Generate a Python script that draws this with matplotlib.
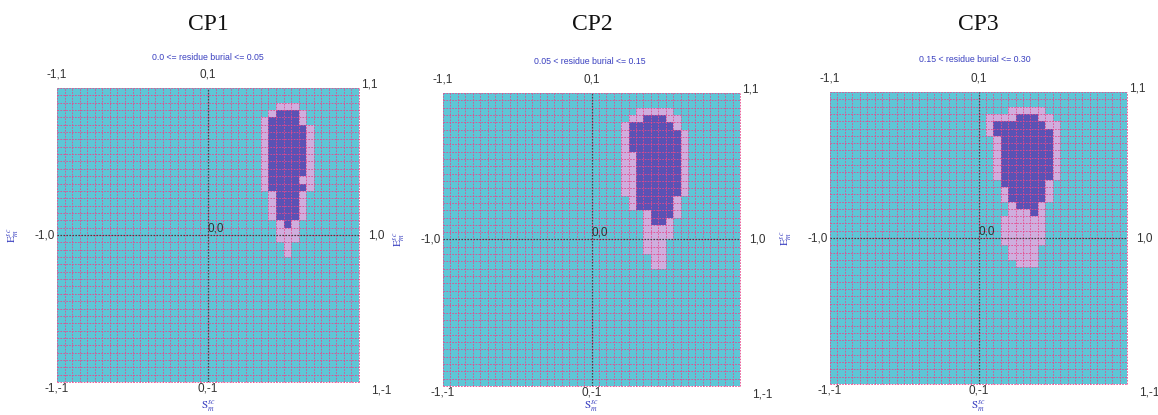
import numpy as np
import matplotlib
matplotlib.use("Agg")
import matplotlib.pyplot as plt
from matplotlib.colors import ListedColormap

plt.rcParams["mathtext.fontset"] = "stix"

# Mapas 40x40: filas contadas desde arriba, (col_ini, col_fin) inclusive
n = 40
titulos = ["CP1", "CP2", "CP3"]
subtitulos = ["0.0 <= residue burial <= 0.05",
              "0.05 < residue burial <= 0.15",
              "0.15 < residue burial <= 0.30"]

oscuro1 = {3: (29, 31), 4: (28, 31), 5: (28, 32), 6: (28, 32), 7: (28, 32), 8: (28, 32),
           9: (28, 32), 10: (28, 32), 11: (28, 32), 12: (28, 31), 13: (28, 32),
           14: (29, 31), 15: (29, 31), 16: (29, 31), 17: (29, 31), 18: (30, 30)}
halo1 = {2: (29, 31), 3: (28, 32), 4: (27, 32), 5: (27, 33), 6: (27, 33), 7: (27, 33),
         8: (27, 33), 9: (27, 33), 10: (27, 33), 11: (27, 33), 12: (27, 33), 13: (27, 33),
         14: (28, 32), 15: (28, 32), 16: (28, 32), 17: (28, 32), 18: (29, 31),
         19: (29, 31), 20: (29, 31), 21: (30, 30), 22: (30, 30)}

oscuro2 = {3: (27, 29), 4: (25, 30), 5: (25, 31), 6: (25, 31), 7: (25, 31), 8: (26, 31),
           9: (26, 31), 10: (26, 31), 11: (26, 31), 12: (26, 31), 13: (26, 31),
           14: (26, 30), 15: (26, 30), 16: (28, 30), 17: (28, 29)}
halo2 = {2: (26, 30), 3: (25, 31), 4: (24, 31), 5: (24, 32), 6: (24, 32), 7: (24, 32),
         8: (24, 32), 9: (24, 32), 10: (24, 32), 11: (24, 32), 12: (24, 32), 13: (24, 32),
         14: (25, 31), 15: (25, 31), 16: (27, 31), 17: (27, 30), 18: (27, 30),
         19: (27, 30), 20: (27, 29), 21: (27, 29), 22: (28, 29), 23: (28, 29)}

oscuro3 = {3: (25, 27), 4: (22, 28), 5: (22, 29), 6: (23, 29), 7: (23, 29), 8: (23, 29),
           9: (23, 29), 10: (23, 29), 11: (23, 29), 12: (23, 28), 13: (24, 28),
           14: (24, 28), 15: (25, 27), 16: (27, 27)}
halo3 = {2: (24, 28), 3: (21, 29), 4: (21, 30), 5: (21, 30), 6: (22, 30), 7: (22, 30),
         8: (22, 30), 9: (22, 30), 10: (22, 30), 11: (22, 30), 12: (23, 29), 13: (23, 29),
         14: (23, 29), 15: (24, 28), 16: (24, 28), 17: (23, 28), 18: (23, 28),
         19: (23, 28), 20: (23, 28), 21: (24, 27), 22: (24, 27), 23: (25, 27)}

mapas = [(oscuro1, halo1), (oscuro2, halo2), (oscuro3, halo3)]

# posiciones de los paneles en pixeles (izq, der, arriba, abajo)
W, H = 1158, 415
paneles = [(57, 359, 88, 382), (443, 740, 93, 386), (830, 1127, 92, 384)]
pos_titulo = [(208, 25), (592, 25), (978, 25)]
pos_sub = [(208, 57), (590, 62), (975, 60)]

cmap = ListedColormap(["#5ec6d6", "#cfaede", "#5a52b4"])
rosa = "#e8488c"
gris = "#333333"
azul = "#3a40c0"

def construir(oscuro, halo):
    m = np.zeros((n, n))
    for r, (a, b) in halo.items():
        m[r, a:b + 1] = 1
    for r, (a, b) in oscuro.items():
        m[r, a:b + 1] = 2
    return m[::-1]  # fila 0 abajo

fig = plt.figure(figsize=(W / 100, H / 100), dpi=100)
fig.patch.set_facecolor("white")

for i, (izq, der, arr, aba) in enumerate(paneles):
    ax = fig.add_axes([izq / W, 1 - aba / H, (der - izq) / W, (aba - arr) / H])
    m = construir(*mapas[i])
    bordes = np.linspace(-1, 1, n + 1)
    ax.pcolormesh(bordes, bordes, m, cmap=cmap, vmin=0, vmax=2)
    ax.vlines(bordes, -1, 1, colors=rosa, linestyles=(0, (2, 1.5)), linewidth=0.6, clip_on=False)
    ax.hlines(bordes, -1, 1, colors=rosa, linestyles=(0, (2, 1.5)), linewidth=0.6, clip_on=False)
    ax.axhline(0, color="#444444", ls=(0, (1.2, 1.2)), lw=0.9)
    ax.axvline(0, color="#444444", ls=(0, (1.2, 1.2)), lw=0.9)
    ax.set_xlim(-1, 1)
    ax.set_ylim(-1, 1)
    ax.set_xticks([])
    ax.set_yticks([])
    for s in ax.spines.values():
        s.set_visible(False)

    ancho = der - izq
    alto = aba - arr
    fs = 8.5
    kw = dict(transform=ax.transAxes, fontsize=fs, color=gris, family="Liberation Sans", clip_on=False)
    ax.text(0.0, 1.025, "-1,1", ha="center", va="bottom", **kw)
    ax.text(0.5, 1.025, "0,1", ha="center", va="bottom", **kw)
    ax.text(1.008, 0.99, "1,1", ha="left", va="bottom", **kw)
    ax.text(-0.008, 0.5, "-1,0", ha="right", va="center", **kw)
    ax.text(1.03, 0.5, "1,0", ha="left", va="center", **kw)
    ax.text(0.5, 0.503, "0,0", ha="left", va="bottom", **kw)
    ax.text(0.0, -6 / alto, "-1,-1", ha="center", va="center", **kw)
    ax.text(0.5, -6 / alto, "0,-1", ha="center", va="center", **kw)
    ax.text(1.04, -8 / alto, "1,-1", ha="left", va="center", **kw)

    ax.text(-44 / ancho, 0.5, r"$\mathrm{E}^{sc}_{m}$", rotation=90, ha="center", va="center",
            transform=ax.transAxes, fontsize=8, color=azul, clip_on=False)
    ax.text(0.5, -(H - 1 - aba) / alto, r"$\mathrm{S}^{sc}_{m}$", ha="center", va="bottom",
            transform=ax.transAxes, fontsize=8, color=azul, clip_on=False)

    tx, ty = pos_titulo[i]
    fig.text(tx / W, 1 - ty / H, titulos[i], ha="center", va="center", fontsize=17,
             family="Liberation Serif", color="#111111")
    sx, sy = pos_sub[i]
    fig.text(sx / W, 1 - sy / H, subtitulos[i], ha="center", va="center", fontsize=6.3,
             family="Liberation Sans", color=azul)

fig.savefig("out.png", dpi=100)
